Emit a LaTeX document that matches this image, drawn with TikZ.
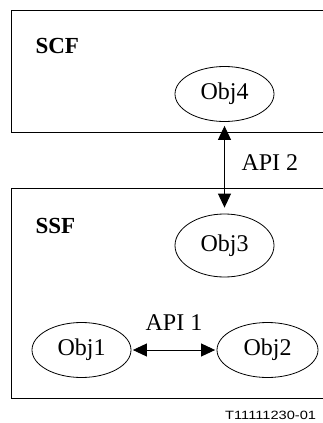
\documentclass[tikz,border=0pt]{standalone}
\usepackage{fontspec}
\setmainfont{Liberation Serif}
\newfontfamily\labelsans{Liberation Sans}
\usetikzlibrary{shapes.geometric,arrows.meta}

\begin{document}
\begin{tikzpicture}[x=1pt,y=-1pt,
  frame/.style={draw,line width=0.9pt},
  obj/.style={draw,ellipse,line width=0.8pt,inner sep=0pt,
    minimum width=99pt,minimum height=55pt,
    font=\fontsize{24}{28}\selectfont},
  area/.style={anchor=west,font=\fontsize{23}{28}\selectfont\bfseries},
  api/.style={font=\fontsize{24}{28}\selectfont},
  link/.style={line width=0.9pt,{Triangle[length=14pt,width=13pt]}-{Triangle[length=14pt,width=13pt]}}]
\useasboundingbox (0,0) rectangle (323,423);
\clip (0,0) rectangle (323,423);

% the two functional areas
\draw[frame] (11,10.5) rectangle (340,132);
\draw[frame] (11,188) rectangle (340,398);
\node[area] (scf) at (32,46) {SCF};
\node[area] (ssf) at (32,226) {SSF};

% objects
\node[obj] (obj4) at (224.5,94) {Obj4};
\node[obj,minimum height=63pt] (obj3) at (224.5,245.5) {Obj3};
\node[obj] (obj1) at (81.5,350) {Obj1};
\node[obj,minimum width=101pt] (obj2) at (267.5,350) {Obj2};

% interfaces
\draw[link,shorten <=4pt,shorten >=6pt] (obj4.south) -- (obj3.north);
\node[api,anchor=west] (api2) at (238,163) {API 2};
\draw[link,shorten <=1.5pt,shorten >=1.5pt] (obj1.east) -- (obj2.west);
\node[api] (api1) at (174,323) {API 1};

% figure reference
\node[anchor=base west,inner sep=0pt,font=\labelsans\fontsize{12}{14}\selectfont,xscale=1.22] (ref) at (225,419) {T11111230-01};
\end{tikzpicture}
\end{document}
